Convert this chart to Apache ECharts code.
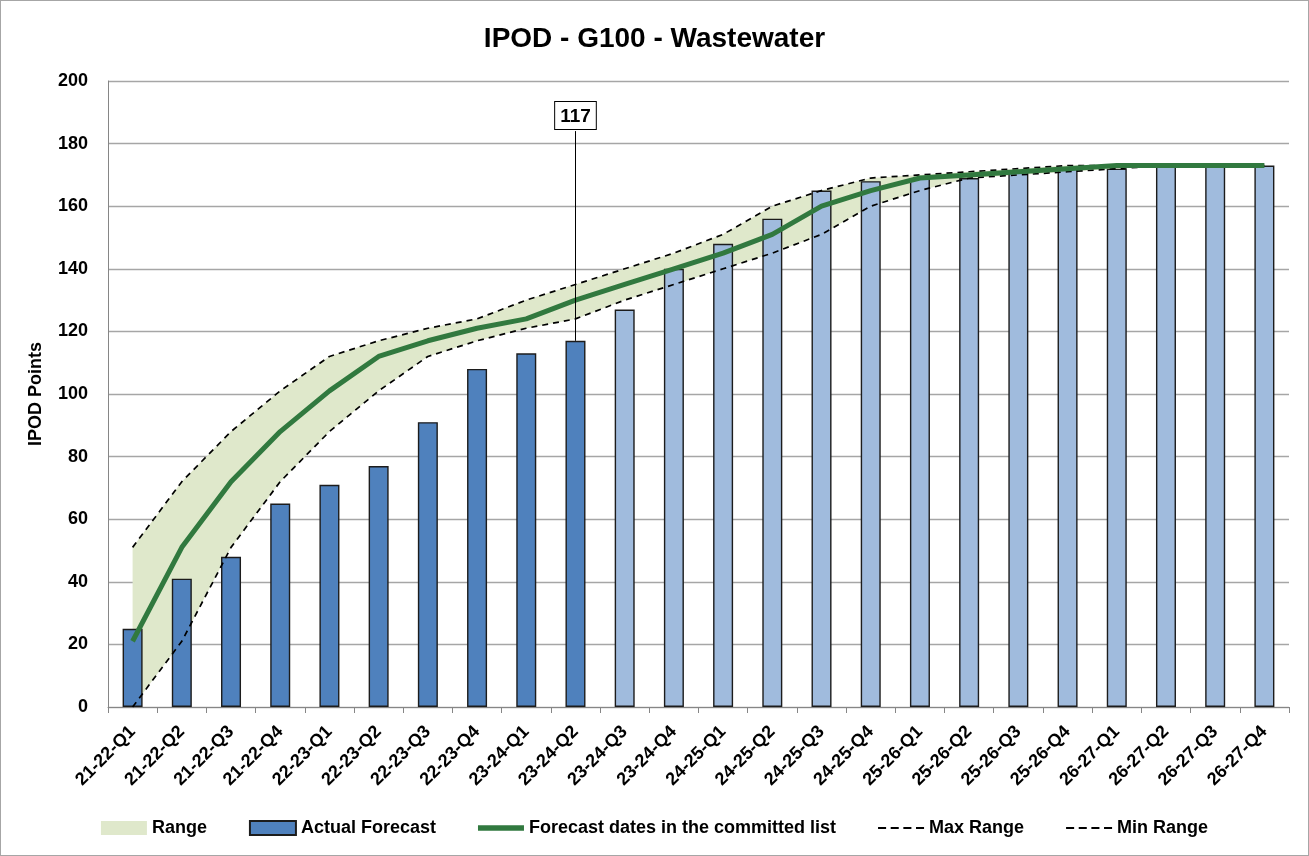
<!DOCTYPE html>
<html>
<head>
<meta charset="utf-8">
<script src="https://cdn.jsdelivr.net/npm/echarts@6/dist/echarts.min.js"></script>
<style>
  html, body { margin: 0; padding: 0; background: #fff; }
  #chart { width: 1309px; height: 856px; box-sizing: border-box; border: 1px solid #a6a6a6; }
</style>
</head>
<body>
<div id="chart"></div>
<script>
// quarters on the x axis
var quarters = ['21-22-Q1', '21-22-Q2', '21-22-Q3', '21-22-Q4', '22-23-Q1', '22-23-Q2', '22-23-Q3', '22-23-Q4',
    '23-24-Q1', '23-24-Q2', '23-24-Q3', '23-24-Q4', '24-25-Q1', '24-25-Q2', '24-25-Q3', '24-25-Q4',
    '25-26-Q1', '25-26-Q2', '25-26-Q3', '25-26-Q4', '26-27-Q1', '26-27-Q2', '26-27-Q3', '26-27-Q4'];

// bars: actual (first ones) then forecast
var actualForecast = [25, 41, 48, 65, 71, 77, 91, 108, 113, 117, 127, 140, 148, 156, 165, 168, 169, 169, 171, 172, 172, 173, 173, 173];
var actualCount = 10;   // bars up to 23-24-Q2 are actuals

// green line
var committed = [21, 51, 72, 88, 101, 112, 117, 121, 124, 130, 135, 140, 145, 151, 160, 165, 169, 170, 171, 172, 173, 173, 173, 173];

// dashed range lines
var maxRange = [51, 72, 88, 101, 112, 117, 121, 124, 130, 135, 140, 145, 151, 160, 165, 169, 170, 171, 172, 173, 173, 173, 173, 173];
var minRange = [0, 21, 51, 72, 88, 101, 112, 117, 121, 124, 130, 135, 140, 145, 151, 160, 165, 169, 170, 171, 172, 173, 173, 173];

var yTicks = [0, 200, 20];  // min, max, step

var FONT = 'Liberation Sans';

// legend icons (drawn as paths so lines show without markers)
var ICON_LINE = 'path://M0,0h50v6h-50z';
var ICON_DASH = 'path://M0,0h7v1.8h-7z M11,0h7v1.8h-7z M22,0h7v1.8h-7z M33,0h7v1.8h-7z';

// stacked band needs the width of the range
var rangeBand = [];
for (var i = 0; i < maxRange.length; i++) {
    rangeBand.push(maxRange[i] - minRange[i]);
}

var myChart = echarts.init(document.getElementById('chart'));

myChart.setOption({
    animation: false,
    backgroundColor: '#fff',
    title: {
        text: 'IPOD - G100 - Wastewater',
        left: 'center',
        top: 19,
        textStyle: { fontFamily: FONT, fontSize: 28, fontWeight: 'bold', color: '#000' }
    },
    legend: {
        bottom: 13,
        left: 'center',
        itemGap: 42,
        itemWidth: 46,
        itemHeight: 14,
        textStyle: { fontFamily: FONT, fontSize: 18, fontWeight: 'bold', color: '#000' },
        data: [
            { name: 'Range', icon: 'rect' },
            { name: 'Actual Forecast', icon: 'rect' },
            { name: 'Forecast dates in the committed list', icon: ICON_LINE },
            { name: 'Max Range', icon: ICON_DASH },
            { name: 'Min Range', icon: ICON_DASH }
        ]
    },
    grid: { left: 107, right: 19, top: 80, bottom: 148 },
    xAxis: {
        type: 'category',
        data: quarters,
        boundaryGap: true,
        axisLine: { lineStyle: { color: '#868686', width: 1 } },
        axisTick: { show: true, length: 6, lineStyle: { color: '#868686' } },
        axisLabel: {
            rotate: 45,
            interval: 0,
            margin: 22,
            fontFamily: FONT, fontSize: 18, fontWeight: 'bold', color: '#000'
        }
    },
    yAxis: {
        type: 'value',
        min: yTicks[0],
        max: yTicks[1],
        interval: yTicks[2],
        name: 'IPOD Points',
        nameLocation: 'middle',
        nameGap: 63,
        nameTextStyle: { fontFamily: FONT, fontSize: 18, fontWeight: 'bold', color: '#000' },
        axisLine: { show: true, lineStyle: { color: '#868686' } },
        axisTick: { show: false },
        axisLabel: { fontFamily: FONT, fontSize: 18, fontWeight: 'bold', color: '#000', margin: 20 },
        splitLine: { lineStyle: { color: '#a6a6a6', width: 1.3 } }
    },
    series: [
        {
            name: 'rangeBase',
            type: 'line',
            stack: 'range',
            data: minRange,
            symbol: 'none',
            lineStyle: { opacity: 0 },
            silent: true,
            z: 1
        },
        {
            name: 'Range',
            type: 'line',
            stack: 'range',
            data: rangeBand,
            symbol: 'none',
            color: '#dfe8cb',
            lineStyle: { opacity: 0 },
            areaStyle: { color: '#dfe8cb', opacity: 1 },
            z: 1
        },
        {
            name: 'Actual Forecast',
            type: 'bar',
            data: actualForecast,
            barWidth: 20,
            color: '#4f81bd',
            itemStyle: {
                color: function (p) {
                    return p.dataIndex < actualCount ? '#4f81bd' : '#a0bbdd';
                },
                borderColor: '#1c1c1c',
                borderWidth: 1.4
            },
            markLine: {
                symbol: 'none',
                silent: true,
                lineStyle: { color: '#000', width: 1, type: 'solid' },
                label: {
                    show: true,
                    position: 'end',
                    distance: 2,
                    formatter: String(actualForecast[actualCount - 1]),
                    fontFamily: FONT, fontSize: 19, fontWeight: 'bold', color: '#000',
                    backgroundColor: '#fff',
                    borderColor: '#000',
                    borderWidth: 1,
                    padding: [5, 5, 3, 5]
                },
                data: [[
                    { coord: [quarters[actualCount - 1], actualForecast[actualCount - 1]] },
                    { coord: [quarters[actualCount - 1], 184] }
                ]]
            },
            z: 2
        },
        {
            name: 'Max Range',
            type: 'line',
            data: maxRange,
            symbol: 'none',
            color: '#000',
            lineStyle: { color: '#000', width: 1.7, type: [6, 5] },
            z: 3
        },
        {
            name: 'Min Range',
            type: 'line',
            data: minRange,
            symbol: 'none',
            color: '#000',
            lineStyle: { color: '#000', width: 1.7, type: [6, 5] },
            z: 3
        },
        {
            name: 'Forecast dates in the committed list',
            type: 'line',
            data: committed,
            symbol: 'none',
            color: '#31793f',
            lineStyle: { color: '#31793f', width: 5 },
            z: 4
        }
    ]
});
</script>
</body>
</html>
